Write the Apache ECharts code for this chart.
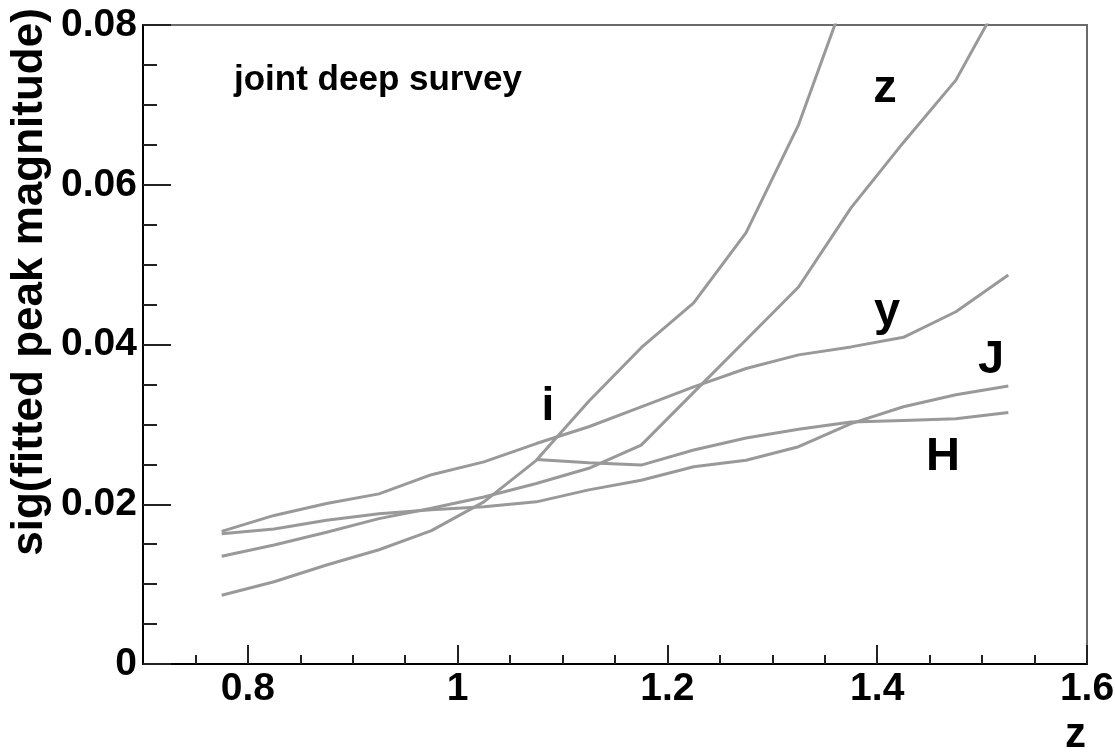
<!DOCTYPE html>
<html>
<head>
<meta charset="utf-8">
<script src="https://cdn.jsdelivr.net/npm/echarts@6/dist/echarts.min.js"></script>
<style>
  html, body { margin: 0; padding: 0; background: #fff; }
  #chart { width: 1115px; height: 754px; }
</style>
</head>
<body>
<div id="chart"></div>
<script>
// redshift bins
const redshifts = [0.775, 0.825, 0.875, 0.925, 0.975, 1.025, 1.075, 1.125,
                   1.175, 1.225, 1.275, 1.325, 1.375, 1.425, 1.475, 1.525];

// sigma of the fitted peak magnitude per filter (null = no point)
const sigI = [0.0086, 0.0103, 0.0124, 0.0143, 0.0167, 0.0203, 0.0255, 0.0329,
              0.0396, 0.0452, 0.0540, 0.0675, 0.0856, null, null, null];
const sigZ = [0.0135, 0.0149, 0.0165, 0.0182, 0.0195, 0.0209, 0.0226, 0.0245,
              0.0274, 0.0340, 0.0406, 0.0472, 0.0571, 0.0653, 0.0731, 0.0850];
const sigY = [0.0166, 0.0186, 0.0201, 0.0213, 0.0237, 0.0253, 0.0276, 0.0297,
              0.0322, 0.0347, 0.0370, 0.0387, 0.0397, 0.0409, 0.0441, 0.0487];
const sigJ = [0.0163, 0.0169, 0.0180, 0.0188, 0.0193, 0.0197, 0.0203, 0.0218,
              0.0230, 0.0247, 0.0255, 0.0272, 0.0301, 0.0322, 0.0337, 0.0348];
const sigH = [null, null, null, null, null, null, 0.0256, 0.0252,
              0.0249, 0.0268, 0.0283, 0.0294, 0.0303, 0.0305, 0.0307, 0.0315];

// axis ticks
const xLabelTicks = [0.8, 1.0, 1.2, 1.4, 1.6];
const xMinorTicks = [0.75, 0.85, 0.9, 0.95, 1.05, 1.1, 1.15, 1.25, 1.3, 1.35, 1.45, 1.5, 1.55];

const FONT = "'Liberation Sans', Arial, Helvetica, sans-serif";
const LINE_COLOR = '#999999';

function pairs(values) {
  return redshifts.map((x, k) => [x, values[k]]);
}

function curve(name, values) {
  return {
    name: name,
    type: 'line',
    data: pairs(values),
    showSymbol: false,
    symbol: 'none',
    connectNulls: false,
    clip: true,
    lineStyle: { color: LINE_COLOR, width: 3 },
    emphasis: { disabled: true },
    silent: true
  };
}

function tag(text, x, y, size, align) {
  return {
    type: 'text',
    x: x, y: y,
    silent: true,
    style: {
      text: text,
      font: 'bold ' + size + 'px ' + FONT,
      fill: '#000',
      align: align || 'center',
      verticalAlign: 'middle'
    }
  };
}

const chart = echarts.init(document.getElementById('chart'), null, { renderer: 'canvas' });

chart.setOption({
  animation: false,
  backgroundColor: '#fff',
  grid: {
    left: 143, top: 25, width: 944, height: 639,
    show: true,
    borderColor: '#6a6a6a',
    borderWidth: 2,
    backgroundColor: 'transparent',
    containLabel: false,
    outerBoundsMode: 'none'
  },
  xAxis: [
    {
      type: 'value',
      min: 0.7, max: 1.6, interval: 0.1,
      position: 'bottom',
      axisLine: { show: true, onZero: false, lineStyle: { color: '#000', width: 2 } },
      axisTick: { show: true, inside: true, length: 19, customValues: xLabelTicks,
                  lineStyle: { color: '#222', width: 2 } },
      axisLabel: {
        show: true, customValues: xLabelTicks, margin: 6,
        fontFamily: FONT, fontWeight: 'bold', fontSize: 39, color: '#000',
        formatter: v => String(+v.toFixed(1))
      },
      splitLine: { show: false },
      minorTick: { show: false }
    },
    {
      type: 'value',
      min: 0.7, max: 1.6, interval: 0.1,
      position: 'bottom',
      axisLine: { show: false, onZero: false },
      axisTick: { show: true, inside: true, length: 9, customValues: xMinorTicks,
                  lineStyle: { color: '#222', width: 2 } },
      axisLabel: { show: false },
      splitLine: { show: false }
    }
  ],
  yAxis: {
    type: 'value',
    min: 0, max: 0.08, interval: 0.02,
    axisLine: { show: true, onZero: false, lineStyle: { color: '#000', width: 2 } },
    axisTick: { show: true, inside: true, length: 28, lineStyle: { color: '#222', width: 2 } },
    minorTick: { show: true, splitNumber: 4, length: 14, lineStyle: { color: '#222', width: 2 } },
    axisLabel: {
      margin: 6,
      fontFamily: FONT, fontWeight: 'bold', fontSize: 39, color: '#000',
      formatter: v => (v === 0 ? '0' : v.toFixed(2))
    },
    splitLine: { show: false }
  },
  graphic: [
    // axis titles
    Object.assign(tag('sig(fitted peak magnitude)', 30, 282, 44), { rotation: Math.PI / 2 }),
    tag('z', 1086, 735, 42, 'right'),
    // survey caption
    tag('joint deep survey', 234, 80, 35, 'left'),
    // filter names next to their curves
    tag('i', 548, 407, 46),
    tag('z', 885, 89, 47),
    tag('y', 887, 312, 47),
    tag('J', 991, 360, 47),
    tag('H', 943, 457, 47)
  ],
  series: [
    curve('i', sigI),
    curve('z', sigZ),
    curve('y', sigY),
    curve('J', sigJ),
    curve('H', sigH)
  ]
});
</script>
</body>
</html>
